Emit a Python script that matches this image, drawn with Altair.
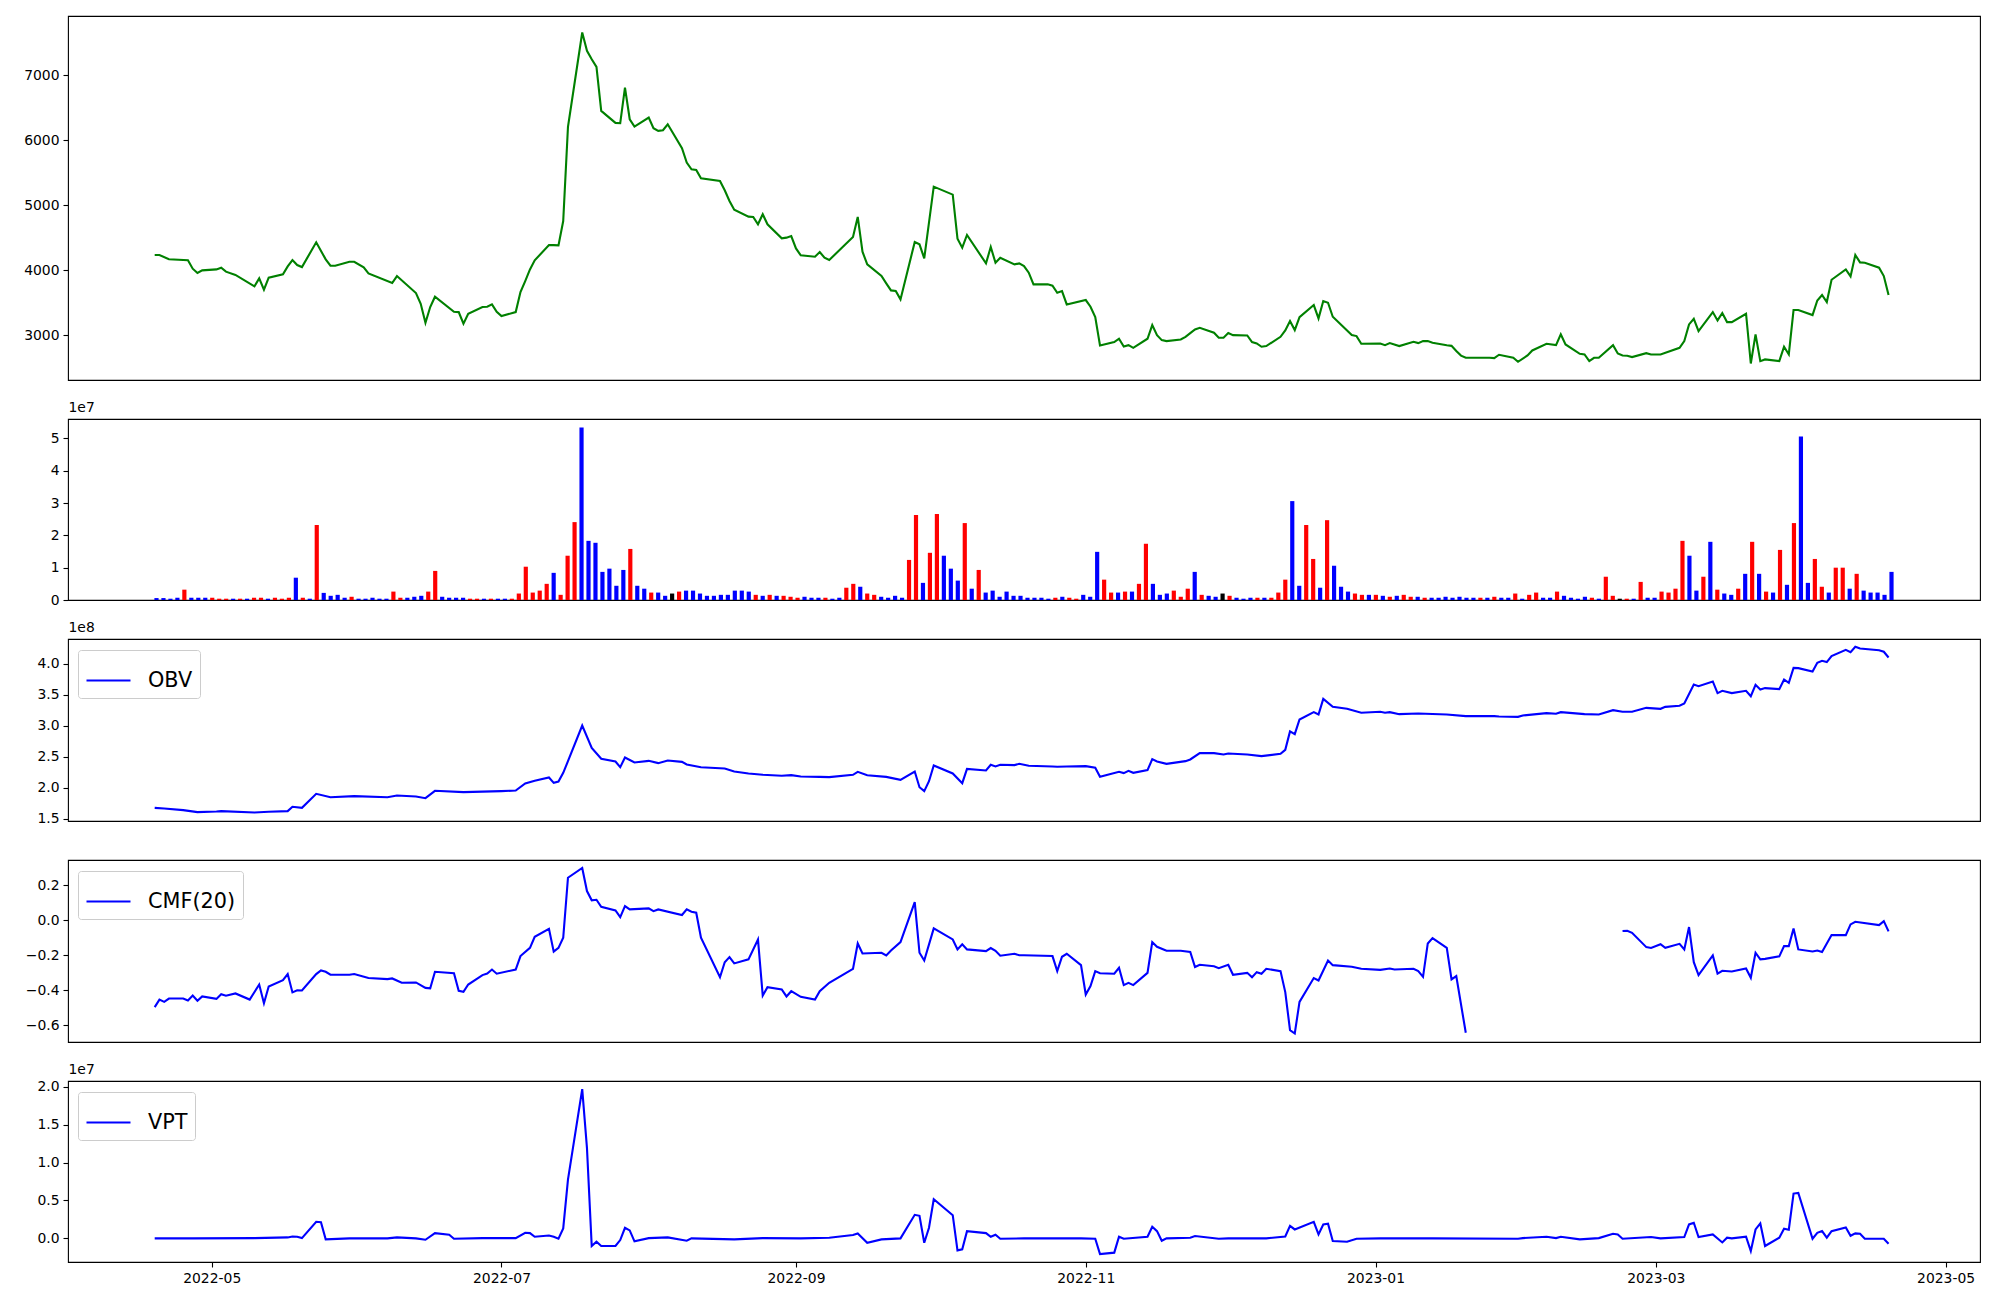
import altair as alt
import pandas as pd


def d(ym, days):
    return [f"{ym}-{x:02d}" for x in days]

# ---------------- close price ----------------
price_dates = (d("2022-04", [19,20,22,26,27,28,29])
    + d("2022-05", [2,3,4,6,10,11,12,13,16,17,18,19,20,23,25,26,27,30,31])
    + d("2022-06", [2,3,8,9,13,14,15,16,17,21,22,23,24,27,28,29,30])
    + d("2022-07", [1,4,5,6,7,8,11,12,13,14,15,18,19,20,21,22,25,26,27,28,29])
    + d("2022-08", [1,2,3,4,5,8,9,10,11,12,16,17,18,19,22,23,24,25,26,29,30,31])
    + d("2022-09", [1,2,5,6,7,8,13,14,15,16,19,20,21,22,23,26,27,28,30])
    + d("2022-10", [4,5,6,7,11,12,13,14,17,18,19,20,21,24,25,26,27,28])
    + d("2022-11", [1,2,3,4,7,8,9,10,11,14,15,16,17,18,21,22,23,24,25,28,29,30])
    + d("2022-12", [1,2,5,6,7,8,9,12,13,14,15,16,19,20,21,22,23,27,28,29])
    + d("2023-01", [2,3,4,6,9,10,11,12,13,16,17,18,19,20,25,26,27,30,31])
    + d("2023-02", [2,3,6,8,9,10,13,14,15,16,17,20,21,22,23,24,27,28])
    + d("2023-03", [2,6,7,8,9,10,13,14,15,16,17,20,21,22,23,24,27,28,29,30,31])
    + d("2023-04", [3,4,5,6,7,10,11,12,13,14,17,18,19]))
price_close = [
    4236,4236,4170,4155,4026,3960,4000,
    4015,4040,3980,3930,3755,3877,3703,3887,3940,4062,4159,4082,4051,4431,4169,4072,4072,4133,4133,
    4046,3954,3805,3913,3651,3487,3195,3436,3595,3364,3359,3180,3333,3436,3441,3477,3364,
    3298,3359,3667,3836,4015,4154,4390,4388,4385,4759,6205,7656,7374,7246,7128,6451,6267,6262,6810,6323,6210,
    6349,6185,6144,6154,6246,5877,5656,5554,5544,5415,5374,5231,5067,4933,4826,4821,4708,4862,4708,4492,4503,4528,
    4338,4231,4210,4282,4195,4159,4513,4821,4287,4092,3913,3800,3692,3682,3554,4436,4400,4185,5287,
    5164,4487,4349,4544,4108,4359,4118,4195,4092,4108,4067,3964,3785,3785,3764,3656,3682,3477,
    3544,3441,3282,2846,2897,2949,2831,2851,2810,2949,3159,3005,2928,2913,2938,2979,3036,3092,3118,3041,2964,2964,
    3036,3005,3000,2897,2877,2826,2836,2979,3077,3221,3082,3282,3467,3262,3528,3503,3287,3005,2990,2872,
    2877,2851,2882,2836,2903,2882,2913,2913,2887,2850,2840,2760,2690,2656,2656,2651,2703,2656,2595,
    2692,2769,2872,2851,3016,2862,2718,2708,2605,2656,2656,2851,2723,2692,2687,2667,2728,2708,
    2708,2810,2913,3169,3256,3067,3359,3231,3344,3205,3205,3333,2569,3016,2605,2631,2605,2826,2708,3390,3390,
    3313,3538,3621,3513,3856,4015,3908,4236,4123,4118,4041,3913,3621]

# ---------------- volume (units of 1e7), one bar per trading day ----------------
volume_1e7 = [
    0.06,0.06,0.04,0.07,0.32,0.07,0.07,0.07,0.07,0.04,
    0.04,0.04,0.04,0.04,0.07,0.07,0.04,0.07,0.04,0.07,
    0.69,0.07,0.04,2.32,0.22,0.13,0.16,0.07,0.10,0.04,
    0.04,0.07,0.04,0.04,0.26,0.07,0.07,0.10,0.13,0.26,
    0.90,0.10,0.07,0.07,0.07,0.04,0.04,0.04,0.04,0.04,
    0.04,0.04,0.20,1.03,0.23,0.29,0.50,0.84,0.16,1.37,
    2.41,5.34,1.83,1.77,0.87,0.97,0.44,0.93,1.58,0.44,
    0.35,0.23,0.23,0.13,0.20,0.26,0.29,0.29,0.20,0.13,
    0.13,0.16,0.16,0.29,0.29,0.26,0.16,0.13,0.16,0.13,
    0.13,0.10,0.07,0.10,0.07,0.07,0.07,0.04,0.07,0.38,
    0.50,0.41,0.20,0.16,0.10,0.07,0.13,0.07,1.24,2.63,
    0.53,1.46,2.66,1.37,0.97,0.60,2.38,0.35,0.93,0.23,
    0.29,0.10,0.26,0.13,0.13,0.07,0.07,0.07,0.04,0.07,
    0.10,0.07,0.04,0.16,0.10,1.49,0.63,0.23,0.23,0.26,
    0.26,0.50,1.74,0.50,0.16,0.20,0.29,0.10,0.35,0.87,
    0.16,0.13,0.10,0.20,0.13,0.07,0.04,0.07,0.07,0.07,
    0.07,0.23,0.63,3.06,0.44,2.32,1.27,0.38,2.47,1.06,
    0.41,0.26,0.20,0.16,0.16,0.16,0.13,0.10,0.13,0.16,
    0.10,0.10,0.07,0.07,0.07,0.10,0.07,0.10,0.07,0.07,
    0.07,0.07,0.10,0.07,0.07,0.20,0.04,0.16,0.23,0.07,
    0.07,0.26,0.13,0.07,0.04,0.10,0.07,0.04,0.72,0.13,
    0.04,0.04,0.04,0.56,0.07,0.07,0.26,0.23,0.35,1.83,
    1.37,0.29,0.72,1.80,0.32,0.20,0.16,0.35,0.81,1.80,
    0.81,0.26,0.23,1.55,0.47,2.38,5.06,0.53,1.27,0.41,
    0.23,1.00,1.00,0.35,0.81,0.29,0.23,0.23,0.16,0.87]
# u = close up, d = close down, f = unchanged
volume_direction = list(
    "dddduddduu" "ududuuduuu" "dududdddud" "dddduudddu" "udddduudud"
    "duuuuuuduu" "udddddddud" "duddfudddd" "ddddddudud" "uuuddduddu"
    "uduudddduu" "duudddudud" "dddddddddu" "duuddduudu" "duuddduuud"
    "uddfudddud" "uuudduudud" "dduudududu" "ududdddddd" "ududduduud"
    "dudddduduu" "fududduuuu" "ddududdudu" "dudududduu" "duududdddd")

# ---------------- OBV (units of 1e8) ----------------
obv_dates = (d("2022-04", [19,21,25,28])
    + d("2022-05", [2,3,10,13,17,18,20,23,26,31])
    + d("2022-06", [7,9,13,15,17,23])
    + d("2022-07", [1,4,6,8,11,12,13,14,15,18,20,22,25,26,27,29])
    + d("2022-08", [1,3,5,8,9,12,17,19,22,25,29,31])
    + d("2022-09", [2,6,8,13,14,16,20,23,26,27,28,29,30])
    + d("2022-10", [4,6,7,11,12,13,14,17,18,20,25,26,28])
    + d("2022-11", [1,3,4,8,9,10,11,14,15,16,18,22,23,25,28,30])
    + d("2022-12", [1,5,8,12,13,14,15,16,19,20,21,23,26,29])
    + d("2023-01", [2,3,4,6,10,16,20,26,27,31])
    + d("2023-02", [1,6,8,9,14,17,20,22,24,27])
    + d("2023-03", [2,3,6,7,9,10,13,14,15,17,20,21,22,23,24,27,28,29,30,31])
    + d("2023-04", [3,4,5,6,7,10,11,12,13,17,18,19]))
obv_1e8 = [
    1.677,1.667,1.64,1.608,
    1.618,1.624,1.602,1.613,1.624,1.694,1.677,1.903,1.849,1.866,
    1.849,1.876,1.860,1.833,1.952,1.930,
    1.946,1.957,2.07,2.113,2.167,2.08,2.102,2.242,2.43,3.005,2.645,2.468,2.425,2.333,2.489,2.409,
    2.435,2.398,2.441,2.419,2.376,2.333,2.312,2.263,2.231,2.21,2.194,2.204,
    2.183,2.177,2.172,2.21,2.258,2.204,2.177,2.129,2.263,2.01,1.946,2.107,2.36,
    2.231,2.075,2.306,2.28,2.371,2.344,2.371,2.366,2.387,2.355,2.344,2.339,2.344,
    2.35,2.323,2.177,2.258,2.237,2.274,2.242,2.285,2.462,2.425,2.387,2.43,2.457,2.559,2.56,2.538,
    2.554,2.538,2.511,2.548,2.613,2.909,2.866,3.102,3.22,3.183,3.435,3.306,3.274,3.21,
    3.226,3.21,3.22,3.188,3.199,3.183,3.156,3.156,3.151,3.145,
    3.167,3.204,3.194,3.22,3.188,3.183,3.253,3.226,3.226,3.29,
    3.274,3.306,3.323,3.36,3.667,3.64,3.715,3.527,3.565,3.527,3.565,3.478,3.661,3.586,3.608,3.591,3.747,3.694,3.935,3.93,
    3.876,4.016,4.048,4.027,4.124,4.226,4.188,4.274,4.247,4.22,4.194,4.102]

# ---------------- CMF(20); None marks the stretch with no value ----------------
cmf_dates = (d("2022-04", [19,20,21,22,25,26,27,28,29])
    + d("2022-05", [2,3,4,6,9,11,12,13,16,17,18,19,20,23,24,25,26,30,31])
    + d("2022-06", [3,7,8,10,13,15,16,17,21,22,23,24,27,28,29,30])
    + d("2022-07", [4,5,7,8,11,12,13,14,15,18,19,20,21,22,25,26,27,28])
    + d("2022-08", [1,2,3,8,9,10,11,12,16,17,18,19,22,24,25,26,29,30,31])
    + d("2022-09", [2,5,6,8,13,14,15,19,20,21,23,26,27,28,30])
    + d("2022-10", [4,5,6,7,11,12,13,14,17,18,19,25,26,27,28,31])
    + d("2022-11", [1,2,3,4,7,8,9,10,11,14,15,16,18,21,23,24,25,28,29])
    + d("2022-12", [1,2,5,6,7,8,9,12,13,14,15,16,19,20,22,23,27,29])
    + d("2023-01", [2,4,5,9,10,11,12,13,16,17,18,20])
    + d("2023-02", [21,22,23,24,27,28])
    + d("2023-03", [2,3,6,7,8,9,10,13,14,15,17,20,21,22,23,24,27,28,29,30,31])
    + d("2023-04", [3,4,5,7,10,11,12,17,18,19]))
cmf_values = [
    -0.496,-0.453,-0.466,-0.447,-0.447,-0.458,-0.43,-0.46,-0.435,
    -0.449,-0.422,-0.431,-0.418,-0.453,-0.367,-0.474,-0.378,-0.342,-0.307,-0.412,-0.40,-0.401,-0.307,-0.286,-0.294,-0.311,-0.311,-0.307,
    -0.33,-0.336,-0.332,-0.357,-0.355,-0.386,-0.389,-0.294,-0.302,-0.403,-0.409,-0.367,-0.313,-0.304,-0.281,-0.305,
    -0.281,-0.204,-0.157,-0.094,-0.048,-0.179,-0.157,-0.099,0.244,0.30,0.168,0.115,0.118,0.078,0.057,0.019,0.082,0.063,
    0.069,0.053,0.063,0.031,0.063,0.05,0.044,-0.099,-0.325,-0.239,-0.21,-0.246,-0.223,-0.109,-0.43,-0.382,-0.395,-0.435,-0.405,
    -0.437,-0.453,-0.405,-0.357,-0.277,-0.132,-0.189,-0.185,-0.2,-0.172,-0.124,0.105,-0.185,-0.229,-0.046,
    -0.109,-0.166,-0.137,-0.166,-0.176,-0.158,-0.174,-0.202,-0.191,-0.199,-0.199,-0.204,-0.29,-0.208,-0.191,-0.256,
    -0.424,-0.376,-0.29,-0.302,-0.305,-0.271,-0.37,-0.357,-0.37,-0.30,-0.124,-0.151,-0.174,-0.174,-0.181,-0.267,-0.254,-0.262,-0.273,
    -0.254,-0.311,-0.30,-0.325,-0.296,-0.305,-0.277,-0.29,-0.41,-0.628,-0.647,-0.466,-0.33,-0.344,-0.229,-0.256,-0.265,-0.277,
    -0.283,-0.275,-0.281,-0.277,-0.29,-0.323,-0.132,-0.101,-0.157,-0.338,-0.319,-0.643,
    None,-0.061,-0.059,-0.071,-0.153,-0.158,
    -0.136,-0.157,-0.134,-0.166,-0.038,-0.239,-0.313,-0.20,-0.304,-0.288,-0.292,-0.275,-0.328,-0.185,-0.223,-0.22,-0.206,-0.147,-0.147,-0.046,-0.166,
    -0.178,-0.172,-0.181,-0.084,-0.084,-0.023,-0.008,-0.027,-0.004,-0.063]

# ---------------- VPT (units of 1e7) ----------------
vpt_dates = (d("2022-04", [19,27])
    + d("2022-05", [10,17,18,19,20,23,24,25,30])
    + d("2022-06", [7,9,13,15,17,20,21,27])
    + d("2022-07", [4,6,7,8,11,12,13,14,15,18,19,20,21,22,25,26,27,28,29])
    + d("2022-08", [1,5,9,10,19,25])
    + d("2022-09", [2,8,13,14,16,19,23,26,27,28,29,30])
    + d("2022-10", [4,5,6,7,11,12,13,14,19,31])
    + d("2022-11", [3,4,7,8,9,14,15,16,17,18,23,24,29])
    + d("2022-12", [1,9,13,14,15,19,20,21,22,23,26,28])
    + d("2023-01", [2,13,31])
    + d("2023-02", [1,6,8,9,13,17,20,21,22,28])
    + d("2023-03", [2,7,8,9,10,13,15,16,17,20,21,22,23,24,27,28,29,30,31])
    + d("2023-04", [3,4,5,6,7,10,11,12,13,14,18,19]))
vpt_1e7 = [
    0,0,
    0.004,0.013,0.026,0.022,0.004,0.219,0.214,-0.013,0,
    0,0.013,0,-0.018,0.07,0.048,-0.004,0.004,
    0.004,0.074,0.07,0.022,0.039,0.022,-0.004,0.131,0.775,1.969,1.19,-0.10,-0.044,-0.10,-0.10,-0.022,0.14,0.105,-0.039,
    0.004,0.013,-0.031,0,-0.013,0.004,
    0,0.009,0.044,0.066,-0.057,-0.013,0,0.311,0.298,-0.057,0.14,0.516,
    0.306,-0.158,-0.144,0.096,0.07,0.022,0.048,-0.004,0,0,
    -0.004,-0.206,-0.188,0.022,-0.004,0.022,0.153,0.096,-0.031,0,0.009,0.031,-0.004,
    0,0,0.026,0.166,0.118,0.219,0.053,0.184,0.193,-0.035,-0.044,-0.004,
    0,0,-0.004,
    0.004,0.022,0.004,0.022,-0.013,0.004,0.061,0.053,-0.004,0.018,
    0,0.018,0.184,0.206,0.018,0.053,-0.053,0.009,0,0.022,-0.166,0.118,0.197,-0.10,0.009,0.127,0.114,0.591,0.60,
    -0.004,0.074,0.096,0.009,0.096,0.144,0.035,0.066,0.061,-0.004,-0.004,-0.07]

x_tick_dates = ["2022-05-01", "2022-07-01", "2022-09-01", "2022-11-01",
                "2023-01-01", "2023-03-01", "2023-05-01"]
x_range = ["2022-03-31T18:00:00Z", "2023-05-08T06:00:00Z"]

assert len(price_dates) == len(price_close)
assert len(volume_1e7) == len(volume_direction)
assert len(obv_dates) == len(obv_1e8)
assert len(cmf_dates) == len(cmf_values)
assert len(vpt_dates) == len(vpt_1e7)


def ms(s):
    t = pd.Timestamp(s)
    if t.tzinfo is None:
        t = t.tz_localize("UTC")
    return int(t.value // 10**6)


price_df = pd.DataFrame({"date": price_dates, "close": price_close})
vol_df = pd.DataFrame({"i": list(range(len(volume_1e7))), "vol": volume_1e7, "dir": volume_direction})
obv_df = pd.DataFrame({"date": obv_dates, "v": obv_1e8, "name": "OBV"})
cmf_df = pd.DataFrame({"date": cmf_dates, "v": cmf_values, "name": "CMF(20)"})
cmf_df["seg"] = cmf_df["v"].isna().cumsum()
cmf_df = cmf_df.dropna().reset_index(drop=True)
vpt_df = pd.DataFrame({"date": vpt_dates, "v": vpt_1e7, "name": "VPT"})

W = 1912
FONT = "DejaVu Sans"
ac = dict(labelFont=FONT, labelFontSize=13.9, labelColor="black", tickColor="black",
          tickSize=5, tickWidth=1.1, labelPadding=4, domain=False, grid=False,
          labelFlush=False, labelOverlap=False)
offset_title = dict(titleAngle=0, titleAlign="left", titleBaseline="bottom", titleX=0, titleY=-5,
                    titleFont=FONT, titleFontSize=13.9, titleFontWeight="normal", titleColor="black")
leg = dict(title=None, orient="none", legendX=10, legendY=11, symbolType="stroke",
           symbolSize=1936, symbolStrokeWidth=2.1, labelFont=FONT, labelFontSize=20.8,
           labelColor="black", labelOffset=16, padding=7, fillColor="white",
           strokeColor="#cccccc", cornerRadius=3)

xs = alt.Scale(type="utc", domain=[ms(x_range[0]), ms(x_range[1])], nice=False)
x_hidden = alt.X("date:T", scale=xs, axis=None)

p1 = alt.Chart(price_df).mark_line(color="#008000", strokeWidth=2.1).encode(
    x=x_hidden,
    y=alt.Y("close:Q", scale=alt.Scale(domain=[2315, 7910], nice=False, zero=False),
            axis=alt.Axis(values=[3000, 4000, 5000, 6000, 7000], format="d", title=None, **ac)),
).properties(width=W, height=364)

p2 = alt.Chart(vol_df).transform_calculate(
    x0="datum.i - 0.3", x1="datum.i + 0.3"
).mark_bar().encode(
    x=alt.X("x0:Q", scale=alt.Scale(domain=[-12.7, 261.7], nice=False, zero=False), axis=None),
    x2="x1:Q",
    y=alt.Y("vol:Q", scale=alt.Scale(domain=[0, 5.6], nice=False),
            axis=alt.Axis(values=[0, 1, 2, 3, 4, 5], format="d", title="1e7", **offset_title, **ac)),
    y2=alt.datum(0),
    color=alt.Color("dir:N", scale=alt.Scale(domain=["u", "d", "f"],
                                             range=["#ff0000", "#0000ff", "#000000"]), legend=None),
).properties(width=W, height=181)

p3 = alt.Chart(obv_df).mark_line(strokeWidth=2.1).encode(
    x=x_hidden,
    y=alt.Y("v:Q", scale=alt.Scale(domain=[1.465, 4.40], nice=False, zero=False),
            axis=alt.Axis(values=[1.5, 2.0, 2.5, 3.0, 3.5, 4.0], format=".1f", title="1e8",
                          **offset_title, **ac)),
    color=alt.Color("name:N", scale=alt.Scale(domain=["OBV"], range=["#0000ff"]), legend=alt.Legend(**leg)),
).properties(width=W, height=182)

p4 = alt.Chart(cmf_df).mark_line(strokeWidth=2.1).encode(
    x=x_hidden,
    y=alt.Y("v:Q", scale=alt.Scale(domain=[-0.6957, 0.3456], nice=False, zero=False),
            axis=alt.Axis(values=[-0.6, -0.4, -0.2, 0.0, 0.2], format=".1f", title=None, **ac)),
    detail="seg:N",
    color=alt.Color("name:N", scale=alt.Scale(domain=["CMF(20)"], range=["#0000ff"]), legend=alt.Legend(**leg)),
).properties(width=W, height=182)

p5 = alt.Chart(vpt_df).mark_line(strokeWidth=2.1).encode(
    x=alt.X("date:T", scale=xs,
            axis=alt.Axis(values=[ms(t) for t in x_tick_dates],
                          labelExpr="utcFormat(datum.value, '%Y-%m')",
                          labelAngle=0, title=None, **ac)),
    y=alt.Y("v:Q", scale=alt.Scale(domain=[-0.311, 2.075], nice=False, zero=False),
            axis=alt.Axis(values=[0.0, 0.5, 1.0, 1.5, 2.0], format=".1f", title="1e7",
                          **offset_title, **ac)),
    color=alt.Color("name:N", scale=alt.Scale(domain=["VPT"], range=["#0000ff"]), legend=alt.Legend(**leg)),
).properties(width=W, height=181)

chart = alt.vconcat(
    p1, p2, p3, p4, p5, spacing=39, bounds="flush",
    padding={"left": 15, "top": 7, "right": 5, "bottom": 5},
).resolve_scale(
    x="independent", y="independent", color="independent"
).resolve_legend(
    color="independent"
).configure(font=FONT).configure_view(stroke="black", strokeWidth=1.1)

chart.save("out.html", embed_options={"renderer": "svg", "actions": False})
